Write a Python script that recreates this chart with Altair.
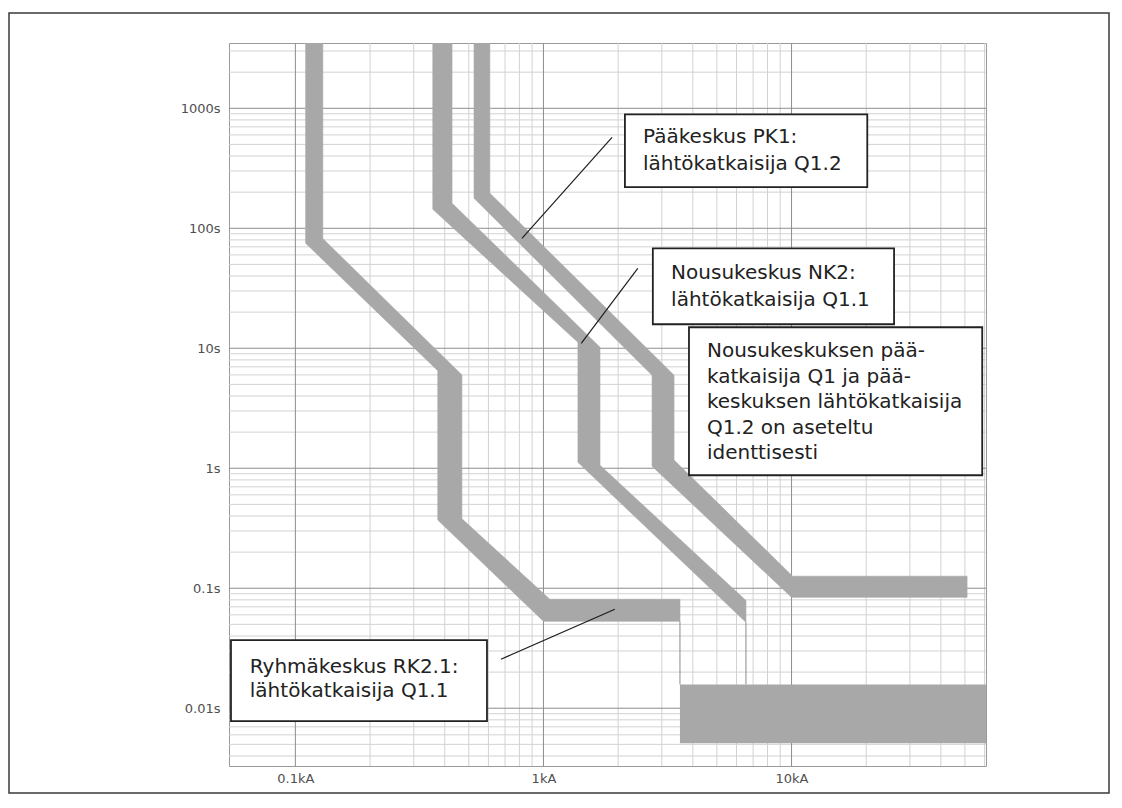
import altair as alt
import pandas as pd

# ---------------- axes (current in kA, time in s) ----------------
X_DOMAIN = [0.054, 60.8]
Y_DOMAIN = [0.0033, 3500]
X_TICKS = [0.1, 1, 10]
X_TICK_LABELS = ["0.1kA", "1kA", "10kA"]
Y_TICKS = [0.01, 0.1, 1, 10, 100, 1000]
Y_TICK_LABELS = ["0.01s", "0.1s", "1s", "10s", "100s", "1000s"]
X_MINOR = [0.2, 0.3, 0.4, 0.5, 0.6, 0.7, 0.8, 0.9,
           2, 3, 4, 5, 6, 7, 8, 9,
           20, 30, 40, 50, 60]
Y_MINOR = [0.004, 0.005, 0.006, 0.007, 0.008, 0.009,
           0.02, 0.03, 0.04, 0.05, 0.06, 0.07, 0.08, 0.09,
           0.2, 0.3, 0.4, 0.5, 0.6, 0.7, 0.8, 0.9,
           2, 3, 4, 5, 6, 7, 8, 9,
           20, 30, 40, 50, 60, 70, 80, 90,
           200, 300, 400, 500, 600, 700, 800, 900,
           2000, 3000]

# ---------------- tripping bands ----------------
T_TOP = 3500
# Ryhmäkeskus RK2.1: lähtökatkaisija Q1.1
RK_FAST_I = [0.110, 0.110, 0.375, 0.375, 1.00, 3.55]
RK_FAST_T = [T_TOP, 75, 6.5, 0.37, 0.053, 0.053]
RK_SLOW_I = [0.129, 0.129, 0.469, 0.469, 1.06, 3.55]
RK_SLOW_T = [T_TOP, 82, 6.0, 0.38, 0.081, 0.081]
# Nousukeskus NK2: lähtökatkaisija Q1.1
NK_FAST_I = [0.358, 0.358, 1.377, 1.377, 6.55]
NK_FAST_T = [T_TOP, 144, 11.2, 1.12, 0.052]
NK_SLOW_I = [0.428, 0.428, 1.69, 1.69, 6.55]
NK_SLOW_T = [T_TOP, 162, 10.2, 1.06, 0.079]
# Pääkeskus PK1: lähtökatkaisija Q1.2
PK_FAST_I = [0.525, 0.525, 2.74, 2.74, 10.0, 51.0]
PK_FAST_T = [T_TOP, 178, 5.96, 1.04, 0.084, 0.084]
PK_SLOW_I = [0.608, 0.608, 3.36, 3.36, 10.1, 51.0]
PK_SLOW_T = [T_TOP, 196, 5.96, 1.17, 0.126, 0.126]

# instantaneous block of RK2.1
INST_I = [3.55, 60.8]
INST_T = [0.0051, 0.0158]
# thin drop lines at the band ends
DROP_I = [3.55, 6.55]
DROP_T_TOP = [0.053, 0.052]
DROP_T_BOTTOM = [0.0158, 0.0158]

# ---------------- annotations ----------------
BOX_LINES = [
    ["Pääkeskus PK1:", "lähtökatkaisija Q1.2"],
    ["Nousukeskus NK2:", "lähtökatkaisija Q1.1"],
    ["Nousukeskuksen pää-", "katkaisija Q1 ja pää-", "keskuksen lähtökatkaisija",
     "Q1.2 on aseteltu", "identtisesti"],
    ["Ryhmäkeskus RK2.1:", "lähtökatkaisija Q1.1"],
]
BOX_I0 = [2.13, 2.76, 3.86, 0.055]
BOX_I1 = [20.2, 25.9, 58.7, 0.592]
BOX_T_BOTTOM = [220, 15.85, 0.874, 0.0078]
BOX_T_TOP = [891, 68.1, 14.96, 0.0369]
TEXT_I = [2.52, 3.27, 4.56, 0.0655]
TEXT_T = [511, 37.6, 8.41, 0.0196]
LINE_HEIGHT = [27, 27, 25.5, 24]

LEADER_I0 = [1.89, 2.40, 0.674]
LEADER_T0 = [573, 46.4, 0.0256]
LEADER_I1 = [0.819, 1.42, 1.94]
LEADER_T1 = [82.5, 11.0, 0.0668]

BAND_COLOR = "#a8a8a8"
FONT = "DejaVu Sans"

# ---------------- build tables ----------------
def band_rows(name, fi, ft, si, st):
    pts = list(zip(fi, ft)) + list(zip(si, st))[::-1]
    return [{"band": name, "k": k, "i": i, "t": t} for k, (i, t) in enumerate(pts)]

bands = pd.DataFrame(
    band_rows("RK", RK_FAST_I, RK_FAST_T, RK_SLOW_I, RK_SLOW_T)
    + band_rows("NK", NK_FAST_I, NK_FAST_T, NK_SLOW_I, NK_SLOW_T)
    + band_rows("PK", PK_FAST_I, PK_FAST_T, PK_SLOW_I, PK_SLOW_T)
)

def label_expr(values, labels):
    expr = "''"
    for v, lab in zip(values, labels):
        expr = f"(abs(datum.value / {v} - 1) < 0.01 ? '{lab}' : {expr})"
    return expr

xs = alt.Scale(type="log", domain=X_DOMAIN, nice=False)
ys = alt.Scale(type="log", domain=Y_DOMAIN, nice=False)

axis_common = dict(grid=False, ticks=False, domain=False, title=None, zindex=1,
                   labelFont=FONT, labelFontSize=13, labelColor="#505050",
                   labelFlush=False, labelOverlap=False)
# the same axis definition is given to every layer so that they merge cleanly
X_AXIS = alt.Axis(values=X_TICKS, labelExpr=label_expr(X_TICKS, X_TICK_LABELS),
                  labelPadding=6, **axis_common)
Y_AXIS = alt.Axis(values=Y_TICKS, labelExpr=label_expr(Y_TICKS, Y_TICK_LABELS),
                  labelPadding=9, **axis_common)

def X(field):
    return alt.X(field, type="quantitative", scale=xs, axis=X_AXIS)

def Y(field):
    return alt.Y(field, type="quantitative", scale=ys, axis=Y_AXIS)

# gridlines
minor_x = alt.Chart(pd.DataFrame({"gx": X_MINOR})).mark_rule(
    color="#d2d2d2", strokeWidth=1).encode(x=X("gx"))
minor_y = alt.Chart(pd.DataFrame({"gy": Y_MINOR})).mark_rule(
    color="#d2d2d2", strokeWidth=1).encode(y=Y("gy"))
major_x = alt.Chart(pd.DataFrame({"mx": X_TICKS})).mark_rule(
    color="#8e8e8e", strokeWidth=1).encode(x=X("mx"))
major_y = alt.Chart(pd.DataFrame({"my": Y_TICKS})).mark_rule(
    color="#8e8e8e", strokeWidth=1).encode(y=Y("my"))

# outer frame
frame = alt.Chart(pd.DataFrame({"a": [0]})).mark_rect(
    filled=False, stroke="#3a3a3a", strokeWidth=1.5, clip=False
).encode(x=alt.value(-220), x2=alt.value(880), y=alt.value(-30), y2=alt.value(750))

band_layer = alt.Chart(bands).mark_line(
    interpolate="linear-closed", fill=BAND_COLOR, stroke=BAND_COLOR,
    strokeWidth=0.6, clip=True
).encode(x=X("i"), y=Y("t"), detail="band:N", order=alt.Order("k:Q"))

inst = alt.Chart(pd.DataFrame({"i0": [INST_I[0]], "i1": [INST_I[1]],
                               "t0": [INST_T[0]], "t1": [INST_T[1]]})).mark_rect(
    color=BAND_COLOR, clip=True
).encode(x=X("i0"), x2="i1:Q", y=Y("t0"), y2="t1:Q")

drops = alt.Chart(pd.DataFrame({"i": DROP_I, "ta": DROP_T_TOP, "tb": DROP_T_BOTTOM})).mark_rule(
    color="#8a8a8a", strokeWidth=1
).encode(x=X("i"), y=Y("ta"), y2="tb:Q")

leaders = alt.Chart(pd.DataFrame({"i0": LEADER_I0, "t0": LEADER_T0,
                                  "i1": LEADER_I1, "t1": LEADER_T1})).mark_rule(
    color="#1e1e1e", strokeWidth=1.2
).encode(x=X("i0"), x2="i1:Q", y=Y("t0"), y2="t1:Q")

boxes = alt.Chart(pd.DataFrame({"i0": BOX_I0, "i1": BOX_I1,
                                "t0": BOX_T_BOTTOM, "t1": BOX_T_TOP})).mark_rect(
    fill="white", stroke="#222222", strokeWidth=1.8
).encode(x=X("i0"), x2="i1:Q", y=Y("t0"), y2="t1:Q")

texts = []
for k in range(len(BOX_LINES)):
    texts.append(
        alt.Chart(pd.DataFrame({"i": [TEXT_I[k]], "t": [TEXT_T[k]], "txt": [BOX_LINES[k]]}))
        .mark_text(align="left", baseline="alphabetic", font=FONT, fontSize=20,
                   color="#222222", lineHeight=LINE_HEIGHT[k])
        .encode(x=X("i"), y=Y("t"), text="txt")
    )

chart = alt.layer(
    minor_x, minor_y, major_x, major_y, frame, band_layer, inst, drops,
    leaders, boxes, *texts
).properties(
    width=757, height=723,
    padding={"left": 221, "top": 35, "right": 124, "bottom": 28},
    autosize=alt.AutoSizeParams(type="none"),
    background="white",
).configure_view(stroke="#9a9a9a", strokeWidth=1)

chart.save("out.html", embed_options={"renderer": "svg", "actions": False})
